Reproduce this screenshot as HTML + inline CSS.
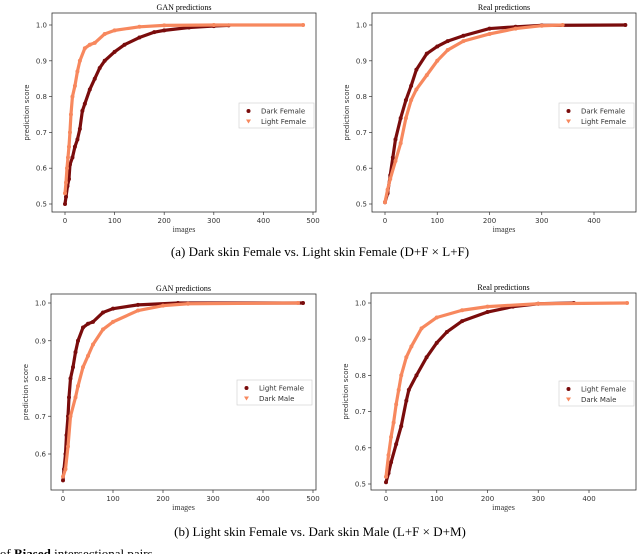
<!DOCTYPE html>
<html><head><meta charset="utf-8"><style>
body{margin:0;background:#fff;width:640px;height:554px;overflow:hidden;position:relative}
svg{position:absolute;left:0;top:0}
</style></head><body>
<svg id="fig" width="640" height="554" xmlns="http://www.w3.org/2000/svg">
<text x="320" y="256" text-anchor="middle" font-family="Liberation Serif,serif" font-size="13">(a) Dark skin Female vs. Light skin Female (D+F × L+F)</text>
<text x="320" y="536" text-anchor="middle" font-family="Liberation Serif,serif" font-size="13">(b) Light skin Female vs. Dark skin Male (L+F × D+M)</text>
<text x="-12" y="558" font-family="Liberation Serif,serif" font-size="13">ts of <tspan font-weight="bold">Biased</tspan> intersectional pairs</text>
</svg>
<script>
// Panel 1: GAN, Dark Female vs Light Female
const p1DarkX=[0,2,5,8,10,15,20,25,30,35,40,50,60,70,80,100,120,150,180,200,250,300,330];
const p1DarkY=[.50,.52,.55,.57,.61,.63,.66,.68,.71,.76,.78,.82,.85,.88,.90,.925,.945,.965,.98,.985,.993,.997,.999];
const p1LightX=[0,2,4,6,8,10,12,15,20,25,30,40,50,60,80,100,150,200,300,480];
const p1LightY=[.53,.56,.60,.63,.66,.70,.75,.80,.83,.87,.90,.935,.945,.95,.975,.985,.995,.999,1,1];
// Panel 2: Real, Dark Female vs Light Female
const p2DarkX=[0,5,10,15,20,30,40,50,60,80,100,120,150,200,250,300,460];
const p2DarkY=[.505,.53,.58,.63,.68,.74,.79,.83,.875,.92,.94,.955,.97,.99,.995,.999,1];
const p2LightX=[0,5,10,20,30,40,50,60,80,100,120,150,200,250,300,340];
const p2LightY=[.505,.54,.57,.62,.67,.74,.79,.82,.86,.90,.93,.955,.975,.99,.998,1];
// Panel 3: GAN, Light Female vs Dark Male
const p3LightX=[0,2,5,7,10,12,15,20,25,30,40,50,60,80,100,150,230,480];
const p3LightY=[.53,.56,.60,.65,.70,.75,.80,.83,.87,.90,.935,.945,.95,.975,.985,.995,1,1];
const p3DarkX=[0,5,10,15,25,30,40,50,60,80,100,150,200,250,470];
const p3DarkY=[.54,.56,.62,.70,.75,.78,.83,.86,.89,.93,.95,.98,.993,.998,1];
// Panel 4: Real, Light Female vs Dark Male
const p4LightX=[0,5,10,20,30,40,45,60,80,100,120,150,200,250,300,370];
const p4LightY=[.505,.53,.56,.61,.66,.73,.76,.80,.85,.89,.92,.95,.975,.99,.998,1];
const p4DarkX=[0,5,10,15,20,25,30,40,50,70,100,150,200,300,475];
const p4DarkY=[.52,.58,.63,.67,.72,.76,.80,.85,.88,.93,.96,.98,.99,.998,1];
const xTicks1=[0,100,200,300,400,500];
const xTicks2=[0,100,200,300,400];
const yTicks1=[0.5,0.6,0.7,0.8,0.9,1.0];
const yTicks3=[0.6,0.7,0.8,0.9,1.0];

const DARK='#7a0c0c', LIGHT='#f7885e';
const NS='http://www.w3.org/2000/svg';
const svg=document.getElementById('fig');
function mk(tag,attrs,parent){const e=document.createElementNS(NS,tag);for(const k in attrs)e.setAttribute(k,attrs[k]);(parent||svg).appendChild(e);return e;}

function panel(cfg){
  const g=mk('g',{});
  
  
  const sx=v=>cfg.x0+(v)*cfg.xs;
  const sy=v=>cfg.y1+(1-v)*cfg.ys;
  const t=mk('text',{x:(cfg.L+cfg.R)/2,y:cfg.T-3,'text-anchor':'middle','font-family':'Liberation Serif,serif','font-size':8},g);
  t.textContent=cfg.title;
  
  
  cfg.xt.forEach(v=>{
    const X=sx(v);
    mk('line',{x1:X,x2:X,y1:cfg.B,y2:cfg.B+3,stroke:'#333','stroke-width':.7},g);
    const tx=mk('text',{x:X,y:cfg.B+11,'text-anchor':'middle','font-family':'DejaVu Sans,sans-serif','font-size':7,fill:'#333'},g);
    tx.textContent=v;
    
    
  });
  cfg.yt.forEach(v=>{
    const Y=sy(v);
    mk('line',{x1:cfg.L-3,x2:cfg.L,y1:Y,y2:Y,stroke:'#333','stroke-width':.7},g);
    const ty=mk('text',{x:cfg.L-5,y:Y+2.5,'text-anchor':'end','font-family':'DejaVu Sans,sans-serif','font-size':7,fill:'#333'},g);
    ty.textContent=v.toFixed(1);
    
    
  });
  const xl=mk('text',{x:(cfg.L+cfg.R)/2,y:cfg.B+20,'text-anchor':'middle','font-family':'Liberation Serif,serif','font-size':8,fill:'#333'},g);
  xl.textContent='images';
  
  
  const yl=mk('text',{x:0,y:0,'text-anchor':'middle','font-family':'DejaVu Sans,sans-serif','font-size':7,fill:'#333',transform:`translate(${cfg.L-23},${(cfg.T+cfg.B)/2}) rotate(-90)`},g);
  yl.textContent='prediction score';
  
  
  cfg.series.forEach(s=>{
    const pts=s.xs.map((v,i)=>sx(v)+','+sy(s.ys[i])).join(' ');
    const pl=mk('polyline',{points:pts,fill:'none',stroke:s.color,'stroke-width':3.2,'stroke-linejoin':'round','stroke-linecap':'round'},g);
    
    
    s.xs.forEach((v,i)=>{
      const c=mk('circle',{cx:sx(v),cy:sy(s.ys[i]),r:2,fill:s.color},g);
      
      
    });
  });
  mk('rect',{x:cfg.L,y:cfg.T,width:cfg.R-cfg.L,height:cfg.B-cfg.T,fill:'none',stroke:'#333','stroke-width':.8},g);
  const lg=mk('g',{},g);
  
  
  mk('rect',{x:cfg.lx,y:cfg.ly,width:75,height:25,fill:'#fff',stroke:'#ccc','stroke-width':.6},lg);
  cfg.series.forEach((s,i)=>{
    const yy=cfg.ly+8+i*10.5;
    if(s.tri) mk('path',{d:`M${cfg.lx+7},${yy-2}h5l-2.5,4z`,fill:s.color},lg);
    else mk('circle',{cx:cfg.lx+9.5,cy:yy,r:2,fill:s.color},lg);
    const lt=mk('text',{x:cfg.lx+22,y:yy+2.5,'font-family':'DejaVu Sans,sans-serif','font-size':7,fill:'#333'},lg);
    lt.textContent=s.label;
    
    
  });
}

panel({name:'chart-gan-a',title:'GAN predictions',L:52,R:316,T:13,B:212,x0:65,xs:0.496,y1:25,ys:358,xt:xTicks1,yt:yTicks1,lx:239,ly:103,
  series:[{key:'dark-female',label:'Dark Female',xs:p1DarkX,ys:p1DarkY,color:DARK},{key:'light-female',label:'Light Female',xs:p1LightX,ys:p1LightY,color:LIGHT,tri:1}]});
panel({name:'chart-real-a',title:'Real predictions',L:372,R:636,T:13,B:212,x0:385,xs:0.5225,y1:25,ys:358,xt:xTicks2,yt:yTicks1,lx:559,ly:103,
  series:[{key:'dark-female',label:'Dark Female',xs:p2DarkX,ys:p2DarkY,color:DARK},{key:'light-female',label:'Light Female',xs:p2LightX,ys:p2LightY,color:LIGHT,tri:1}]});
panel({name:'chart-gan-b',title:'GAN predictions',L:51,R:316,T:294,B:490,x0:63,xs:0.5,y1:303,ys:377.5,xt:xTicks1,yt:yTicks3,lx:237,ly:380,
  series:[{key:'light-female',label:'Light Female',xs:p3LightX,ys:p3LightY,color:DARK},{key:'dark-male',label:'Dark Male',xs:p3DarkX,ys:p3DarkY,color:LIGHT,tri:1}]});
panel({name:'chart-real-b',title:'Real predictions',L:371,R:636,T:293,B:490,x0:386,xs:0.5075,y1:303,ys:362,xt:xTicks2,yt:yTicks1,lx:559,ly:381,
  series:[{key:'light-female',label:'Light Female',xs:p4LightX,ys:p4LightY,color:DARK},{key:'dark-male',label:'Dark Male',xs:p4DarkX,ys:p4DarkY,color:LIGHT,tri:1}]});
</script>
</body></html>
